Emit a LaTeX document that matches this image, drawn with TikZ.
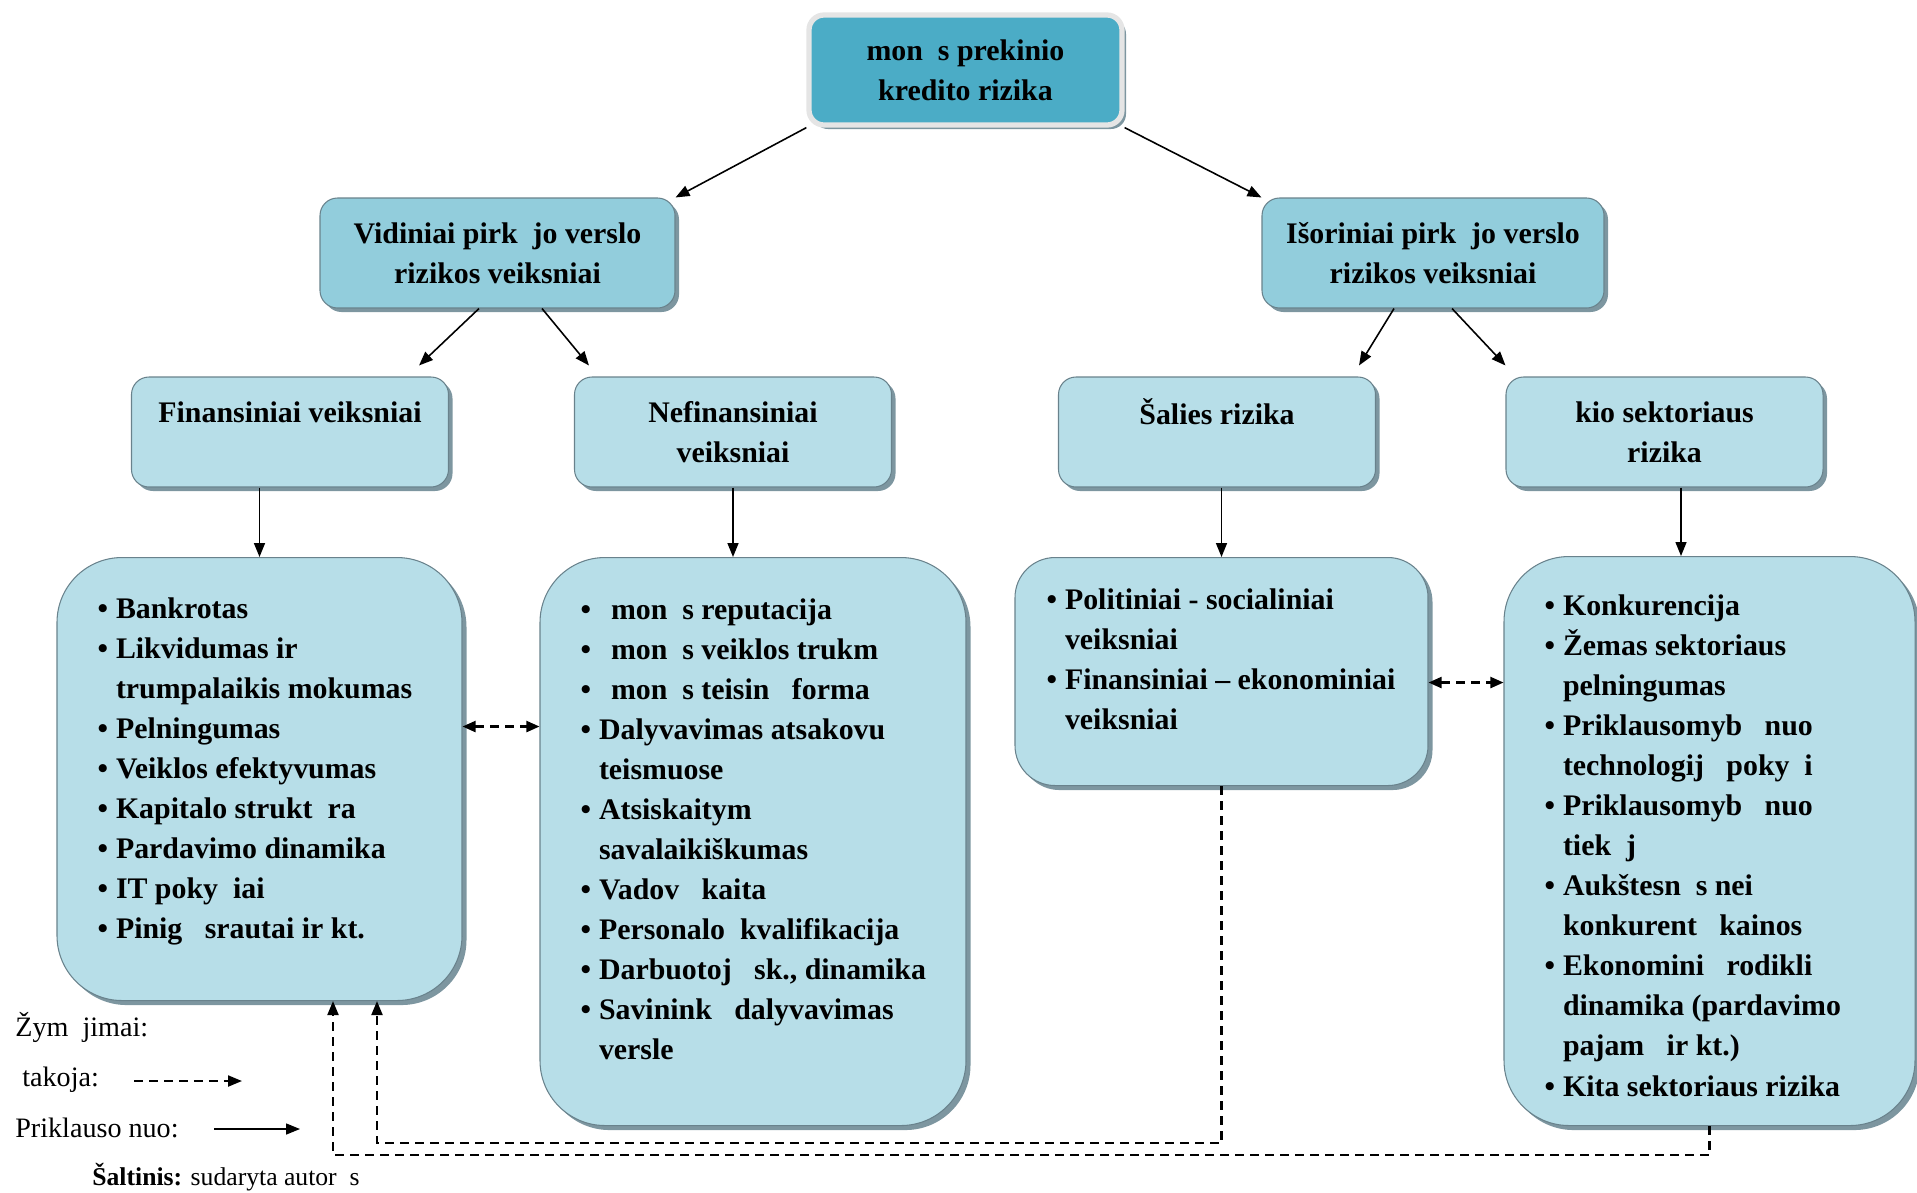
\documentclass[tikz,border=0pt]{standalone}
\usepackage{fontspec}
\setmainfont{Liberation Serif}
\usepackage{enumitem}
\usetikzlibrary{arrows.meta,shadows}

\definecolor{rootblue}{RGB}{75,172,198}
\definecolor{midblue}{RGB}{146,205,220}
\definecolor{paleblue}{RGB}{183,222,232}
\definecolor{edgegray}{RGB}{105,130,140}
\definecolor{shadegray}{RGB}{125,150,160}

\newcommand{\boxfont}{\fontsize{17}{22.8}\selectfont\bfseries}
\newcommand{\notefont}{\fontsize{16}{20}\selectfont}

% list inside a factor box: width, height, top gap, indent, items
\newcommand{\factlist}[5]{%
  \begin{minipage}[t][#2][t]{#1}\vspace*{#3}\raggedright
  \begin{itemize}[label=\textbullet, leftmargin=#4, labelsep=0.16cm,
    rightmargin=0pt, topsep=0pt, partopsep=0pt, itemsep=0pt, parsep=0pt]
  #5
  \end{itemize}\end{minipage}}

\begin{document}
\begin{tikzpicture}[
    rootbox/.style ={rounded corners=0.3cm, fill=rootblue, draw=black!10, line width=3pt,
      align=center, font=\boxfont, minimum width=6.26cm, minimum height=2.2cm,
      drop shadow={shadow xshift=0.08cm, shadow yshift=-0.08cm, fill=shadegray, opacity=1}},
    groupbox/.style ={rounded corners=0.35cm, fill=midblue, draw=edgegray, line width=0.6pt,
      align=center, font=\boxfont, minimum height=2.2cm,
      drop shadow={shadow xshift=0.08cm, shadow yshift=-0.08cm, fill=shadegray, opacity=1}},
    factorbox/.style ={groupbox, fill=paleblue, minimum width=6.34cm},
    listbox/.style ={fill=paleblue, draw=edgegray, line width=0.6pt, inner sep=0pt,
      anchor=north, font=\boxfont,
      drop shadow={shadow xshift=0.09cm, shadow yshift=-0.09cm, fill=shadegray, opacity=1}},
    note/.style ={anchor=west, inner sep=0pt, font=\notefont},
    depends/.style ={-{Triangle[length=0.28cm, width=0.22cm]}, line width=0.9pt},
    affects/.style ={depends, line width=1.2pt, dash pattern=on 0.18cm off 0.12cm},
    linked/.style ={affects, {Triangle[length=0.26cm, width=0.22cm]}-{Triangle[length=0.26cm, width=0.22cm]}}]
   \useasboundingbox (0,0) rectangle (38.34,-23.84);

   \node[rootbox] (R) at (19.31,-1.4) {mon~~s prekinio\\kredito rizika};

   \node[groupbox, minimum width=7.1cm] (V) at (9.95,-5.06) {Vidiniai pirk~~jo verslo\\rizikos veiksniai};
   \node[groupbox, minimum width=6.84cm] (I) at (28.66,-5.06) {Išoriniai pirk~~jo verslo\\rizikos veiksniai};

   \node[factorbox] (F) at (5.8,-8.64) {Finansiniai veiksniai\\\mbox{}};
   \node[factorbox] (N) at (14.66,-8.64) {Nefinansiniai\\veiksniai};
   \node[factorbox] (S) at (24.34,-8.64) {Šalies rizika\\\mbox{}};
   \node[factorbox] (K) at (33.29,-8.64) {kio sektoriaus\\rizika};

   \node[listbox, rounded corners=1.3cm] (FL) at (5.19,-11.14) {\factlist{8.1cm}{8.86cm}{0.8cm}{1.18cm}{
     \item Bankrotas
     \item Likvidumas ir\newline trumpalaikis mokumas
     \item Pelningumas
     \item Veiklos efektyvumas
     \item Kapitalo strukt~~ra
     \item Pardavimo dinamika
     \item IT poky~~iai
     \item Pinig~~~srautai ir kt.}};
   \node[listbox, rounded corners=1.3cm] (NL) at (15.06,-11.14) {\factlist{8.52cm}{11.36cm}{0.82cm}{1.18cm}{
     \item \hspace*{0.24cm}mon~~s reputacija
     \item \hspace*{0.24cm}mon~~s veiklos trukm
     \item \hspace*{0.24cm}mon~~s teisin~~~forma
     \item Dalyvavimas atsakovu\newline teismuose
     \item Atsiskaitym\newline savalaikiškumas
     \item Vadov~~~kaita
     \item Personalo~~kvalifikacija
     \item Darbuotoj~~~sk., dinamika
     \item Savinink~~~dalyvavimas\newline versle}};
   \node[listbox, rounded corners=0.8cm] (SL) at (24.43,-11.14) {\factlist{8.26cm}{4.56cm}{0.62cm}{1.0cm}{
     \item Politiniai - socialiniai\newline veiksniai
     \item Finansiniai -- ekonominiai\newline veiksniai}};
   \node[listbox, rounded corners=1.3cm] (KL) at (34.19,-11.12) {\factlist{8.22cm}{11.38cm}{0.76cm}{1.18cm}{
     \item Konkurencija
     \item Žemas sektoriaus\newline pelningumas
     \item Priklausomyb~~~nuo\newline technologij~~~poky~~i
     \item Priklausomyb~~~nuo\newline tiek~~j
     \item Aukštesn~~s nei\newline konkurent~~~kainos
     \item Ekonomini~~~rodikli\newline dinamika (pardavimo\newline pajam~~~ir kt.)
     \item Kita sektoriaus rizika}};

   \draw[depends] (R.south west) -- (V.north east);
   \draw[depends] (R.south east) -- (I.north west);
   \draw[depends] ([xshift=-0.37cm]V.south) -- ([xshift=-0.6cm, yshift=0.22cm]F.north east);
   \draw[depends] ([xshift=0.89cm]V.south) -- ([xshift=0.3cm, yshift=0.22cm]N.north west);
   \draw[depends] ([xshift=-0.78cm]I.south) -- ([xshift=-0.34cm, yshift=0.22cm]S.north east);
   \draw[depends] ([xshift=0.38cm]I.south) -- ([yshift=0.22cm]K.north west);

   \draw[depends] (FL.north |- F.south) -- (FL.north);
   \draw[depends] (N.south) -- (N.south |- NL.north);
   \draw[depends] (SL.north |- S.south) -- (SL.north);
   \draw[depends] ([xshift=0.33cm]K.south) -- ([xshift=0.33cm]K.south |- KL.north);

   \draw[linked] ([yshift=1.05cm]FL.east) -- ([yshift=1.05cm]FL.east -| NL.west);
   \draw[linked] ([yshift=-0.22cm]SL.east) -- ([yshift=-0.22cm]SL.east -| KL.west);

   \draw[affects] (SL.south) -- ++(0,-7.14) -| ([xshift=2.35cm]FL.south);
   \draw[affects] (KL.south) -- ++(0,-0.58) -| ([xshift=1.47cm]FL.south);

   % legend
   \node[note] (zym) at (0.3,-20.54) {Žym~~jimai:};
   \node[note] (tak) at (0.3,-21.6) {~takoja:};
   \node[note] (prk) at (0.3,-22.56) {Priklauso nuo:};
   \node[note, font=\fontsize{14.6}{17}\selectfont] (src) at (1.84,-23.54) {\textbf{Šaltinis:} sudaryta autor~~s};
   \coordinate (takA) at (2.68,-21.62);
   \coordinate (takB) at (4.84,-21.62);
   \coordinate (prkA) at (4.28,-22.58);
   \coordinate (prkB) at (6.0,-22.58);
   \draw[affects] (takA) -- (takB);
   \draw[depends] (prkA) -- (prkB);

\end{tikzpicture}
\end{document}
